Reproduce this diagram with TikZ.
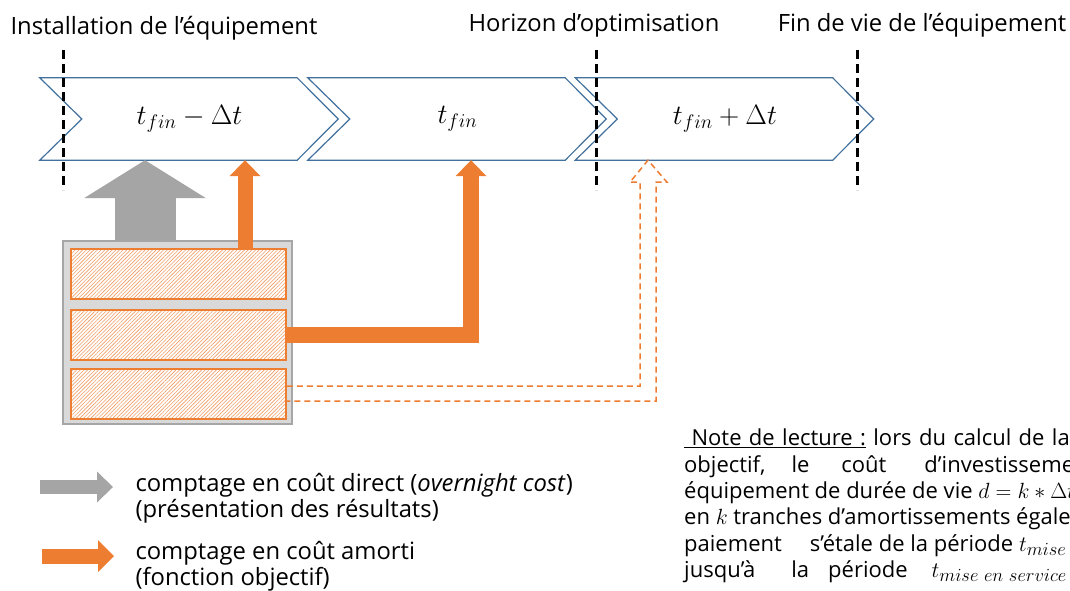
\RequirePackage{fix-cm}
\documentclass[tikz,border=0pt]{standalone}
\usepackage{fontspec}
\setmainfont{Open Sans}
\usetikzlibrary{arrows.meta,patterns.meta}
\DeclareMathSizes{22}{22}{18.5}{13}

\definecolor{bleuChevron}{HTML}{41719C}
\definecolor{orangeAmorti}{HTML}{ED7D31}
\definecolor{grisDirect}{HTML}{A5A5A5}
\definecolor{grisFond}{HTML}{D9D9D9}
\definecolor{grisBord}{HTML}{A6A6A6}

\begin{document}
\begin{tikzpicture}[x=1pt,y=-1pt,
    periode/.style={minimum width=215pt,minimum height=82pt,inner sep=0pt,font=\fontsize{28}{32}\selectfont},
    chevron/.style={draw=bleuChevron,line width=1.2pt,line join=miter},
    jalon/.style={draw=black,line width=3pt,dash pattern=on 9pt off 5pt},
    etiquette/.style={anchor=base,font=\fontsize{23.8}{26}\selectfont},
    tranche/.style={draw=orangeAmorti,line width=1.5pt,minimum width=215pt,minimum height=50pt,inner sep=0pt,
        preaction={fill=white},pattern={Lines[angle=45,distance=2.6pt,line width=0.6pt]},pattern color=orangeAmorti!75},
    direct/.style={draw=grisDirect,line width=61pt,-{Triangle[width=122pt,length=38pt,line width=0pt]}},
    amorti/.style={draw=orangeAmorti,line width=16pt,-{Triangle[width=31pt,length=16pt,line width=0pt]}},
    pointille/.style={draw=orangeAmorti,line width=1.5pt,dash pattern=on 6pt off 4pt},
    legende/.style={anchor=west,align=left,font=\fontsize{23.8}{25.5}\selectfont}]

    \useasboundingbox (0,0) rectangle (1070,590);
    \clip (0,0) rectangle (1070,590);
    \fill[white] (0,0) rectangle (1070,590);

    % periodes
    \node[periode] (tmoins) at (189.5,119) {$t_{fin}-\Delta t$};
    \node[periode] (tfin) at (457.5,119) {$t_{fin}$};
    \node[periode] (tplus) at (725,119) {$t_{fin}+\Delta t$};
    \foreach \p in {tmoins,tfin,tplus}
        \draw[chevron] ([xshift=-42pt]\p.north west) -- (\p.north east) -- ([xshift=41pt]\p.east)
            -- (\p.south east) -- ([xshift=-42pt]\p.south west) -- (\p.west) -- cycle;

    % jalons
    \foreach \x in {63,596,857}
        \draw[jalon] (\x,50) -- (\x,190);
    \node[etiquette] (installation) at (164,34) {Installation de l’équipement};
    \node[etiquette] (horizon) at (594,31) {Horizon d’optimisation};
    \node[etiquette] (findevie) at (922,31) {Fin de vie de l’équipement};

    % investissement et tranches
    \node[draw=grisBord,fill=grisFond,line width=2pt,minimum width=229pt,minimum height=183pt] (invest) at (177.5,332.5) {};
    \node[tranche] (tranche1) at (178.5,274) {};
    \node[tranche] (tranche2) at (178.5,335) {};
    \node[tranche] (tranche3) at (178.5,394) {};

    % fleches
    \coordinate (piedD) at ([xshift=-32.5pt]invest.north);
    \coordinate (teteD) at (piedD |- tmoins.south);
    \draw[direct] (piedD) -- (teteD);

    \coordinate (pied1) at ([xshift=66.5pt]tranche1.north);
    \coordinate (tete1) at (pied1 |- tmoins.south);
    \draw[amorti,line width=15pt] (pied1) -- (tete1);

    \coordinate (tete2) at ([xshift=13.5pt]tfin.south);
    \draw[amorti] (tranche2.east) -| (tete2);

    \coordinate (tete3) at ([xshift=-77pt]tplus.south);
    \draw[pointille] ([yshift=8pt]tranche3.east) -| ([xshift=-8pt,yshift=-22pt]tete3) -- ++(-10pt,0)
        -- (tete3) -- ++(19pt,-22pt) -- ++(-11pt,0) |- ([yshift=-7pt]tranche3.east);

    % legende
    \coordinate (legD1) at (40,487);
    \coordinate (legD2) at (113,487);
    \draw[draw=grisDirect,line width=14pt,-{Triangle[width=31pt,length=16pt,line width=0pt]}] (legD1) -- (legD2);
    \coordinate (legA1) at (42,556);
    \coordinate (legA2) at (114,556);
    \draw[draw=orangeAmorti,line width=15pt,-{Triangle[width=32pt,length=16pt,line width=0pt]}] (legA1) -- (legA2);
    \node[legende] (txtdirect) at (132,498) {comptage en coût direct (\textit{overnight cost})\\(présentation des résultats)};
    \node[legende] (txtamorti) at (132,566) {comptage en coût amorti\\(fonction objectif)};

    % note de lecture
    \node[anchor=north west,align=left,inner sep=0pt,font=\fontsize{22}{26.3}\selectfont] (note) at (684,429) {%
        {\spaceskip=7.4pt\relax\underline{\ Note de lecture :} lors du calcul de la}\\
        objectif,\hspace{26pt}le\hspace{32pt}coût\hspace{38pt}d’investissement\\
        équipement de durée de vie $d=k\ast\Delta t$\\
        en $k$ tranches d’amortissements égales\\
        paiement\hspace{28pt}s’étale de la période $t_{mise\ en\ service}$\\
        jusqu'à\hspace{36pt}la\hspace{19pt}période\hspace{24pt}$t_{mise\ en\ service}$};
\end{tikzpicture}
\end{document}
